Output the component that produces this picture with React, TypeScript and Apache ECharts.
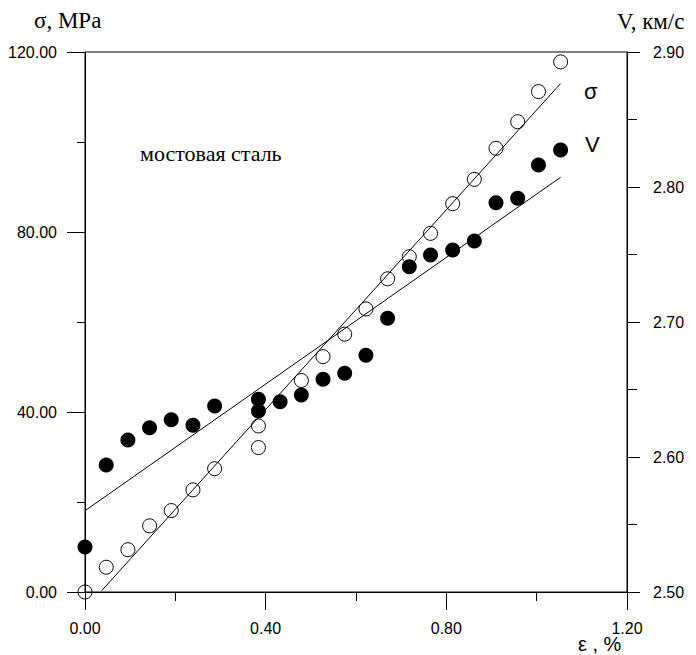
import React, { useEffect, useRef } from "react";
import * as echarts from "echarts";

// strain ε (%) for σ points and σ (MPa)
const epsSigma = [0, 0.047, 0.095, 0.143, 0.191, 0.239, 0.287, 0.384, 0.384, 0.479, 0.527, 0.575, 0.622, 0.670, 0.718, 0.765, 0.814, 0.862, 0.910, 0.958, 1.004, 1.053];
const sigma = [0, 5.5, 9.4, 14.7, 18.1, 22.7, 27.4, 36.9, 32.1, 47.0, 52.3, 57.3, 62.9, 69.6, 74.5, 79.7, 86.3, 91.7, 98.6, 104.5, 111.2, 117.8];

// strain ε (%) for V points and V (km/s)
const epsV = [0, 0.047, 0.095, 0.143, 0.191, 0.239, 0.287, 0.384, 0.384, 0.432, 0.479, 0.527, 0.575, 0.622, 0.670, 0.718, 0.765, 0.814, 0.862, 0.910, 0.958, 1.004, 1.053];
const velocity = [2.5333, 2.594, 2.6126, 2.6217, 2.6276, 2.6235, 2.6378, 2.6427, 2.6341, 2.641, 2.6459, 2.6576, 2.662, 2.6753, 2.7027, 2.741, 2.7496, 2.7533, 2.76, 2.7884, 2.7916, 2.8163, 2.8274];

// fitted straight lines (end points)
const sigmaFitX = [0.037, 1.053];
const sigmaFitY = [0.3, 113.0];
const vFitX = [0, 1.053];
const vFitY = [2.5602, 2.8072];

const xTicks = { min: 0, max: 1.2, interval: 0.4 };
const leftTicks = { min: 0, max: 120, interval: 40 };
const rightTicks = { min: 2.5, max: 2.9, interval: 0.1 };

const sansFont = '"Liberation Sans", Arial, sans-serif';
const serifFont = '"Liberation Serif", "Times New Roman", serif';

export default function App() {
  const ref = useRef<HTMLDivElement>(null);
  useEffect(() => {
    if (!ref.current) return;
    const chart = echarts.init(ref.current, undefined, { renderer: "svg" });
    const black = "#000";
    const labelStyle = { color: black, fontSize: 16, fontFamily: sansFont };
    chart.setOption({
      animation: false,
      backgroundColor: "#fff",
      grid: {
        left: 85,
        top: 52,
        width: 542,
        height: 540,
        show: true,
        borderColor: black,
        borderWidth: 1,
        backgroundColor: "transparent",
      },
      xAxis: {
        type: "value",
        min: xTicks.min,
        max: xTicks.max,
        interval: xTicks.interval,
        position: "bottom",
        axisLine: { show: true, lineStyle: { color: black, width: 1 } },
        axisTick: { show: true, length: 18, lineStyle: { color: black } },
        minorTick: { show: true, splitNumber: 2, length: 9, lineStyle: { color: black } },
        splitLine: { show: false },
        minorSplitLine: { show: false },
        axisLabel: { ...labelStyle, margin: 28, formatter: (v: number) => v.toFixed(2) },
      },
      yAxis: [
        {
          type: "value",
          position: "left",
          min: leftTicks.min,
          max: leftTicks.max,
          interval: leftTicks.interval,
          axisLine: { show: true, lineStyle: { color: black, width: 1 } },
          axisTick: { show: true, length: 18, lineStyle: { color: black } },
          minorTick: { show: true, splitNumber: 2, length: 8, lineStyle: { color: black } },
          splitLine: { show: false },
          axisLabel: { ...labelStyle, margin: 28, formatter: (v: number) => v.toFixed(2) },
        },
        {
          type: "value",
          position: "right",
          min: rightTicks.min,
          max: rightTicks.max,
          interval: rightTicks.interval,
          axisLine: { show: true, lineStyle: { color: black, width: 1 } },
          axisTick: { show: true, length: 13, lineStyle: { color: black } },
          minorTick: { show: true, splitNumber: 2, length: 10, lineStyle: { color: black } },
          splitLine: { show: false },
          axisLabel: { ...labelStyle, margin: 26, formatter: (v: number) => v.toFixed(2) },
        },
      ],
      series: [
        {
          name: "σ",
          type: "scatter",
          yAxisIndex: 0,
          symbol: "circle",
          symbolSize: 14,
          itemStyle: { color: "rgba(0,0,0,0)", borderColor: black, borderWidth: 1, opacity: 1 },
          data: epsSigma.map((x, i) => [x, sigma[i]]),
          z: 2,
        },
        {
          name: "V",
          type: "scatter",
          yAxisIndex: 1,
          symbol: "circle",
          symbolSize: 15,
          itemStyle: { color: black, opacity: 1 },
          data: epsV.map((x, i) => [x, velocity[i]]),
          z: 3,
        },
        {
          name: "σ fit",
          type: "line",
          yAxisIndex: 0,
          showSymbol: false,
          symbol: "none",
          lineStyle: { color: black, width: 1 },
          data: sigmaFitX.map((x, i) => [x, sigmaFitY[i]]),
          z: 4,
        },
        {
          name: "V fit",
          type: "line",
          yAxisIndex: 1,
          showSymbol: false,
          symbol: "none",
          lineStyle: { color: black, width: 1 },
          data: vFitX.map((x, i) => [x, vFitY[i]]),
          z: 4,
        },
      ],
      graphic: [
        {
          type: "text",
          left: 34,
          top: 9,
          style: { text: "σ, MPa", font: `23px ${serifFont}`, fill: black },
        },
        {
          type: "text",
          left: 617,
          top: 10,
          style: { text: "V, км/с", font: `23px ${serifFont}`, fill: black },
        },
        {
          type: "text",
          left: 140,
          top: 142,
          style: { text: "мостовая сталь", font: `22px ${serifFont}`, fill: black },
        },
        {
          type: "text",
          left: 584,
          top: 80,
          style: { text: "σ", font: `22px ${sansFont}`, fill: black },
        },
        {
          type: "text",
          left: 585,
          top: 133,
          style: { text: "V", font: `22px ${sansFont}`, fill: black },
        },
        {
          type: "text",
          left: 578,
          top: 634,
          style: { text: "ε , %", font: `20px ${sansFont}`, fill: black },
        },
      ],
    });
    return () => chart.dispose();
  }, []);
  return (
    <div
      ref={ref}
      style={{ position: "fixed", left: 0, top: 0, width: 696, height: 655, background: "#fff" }}
    />
  );
}
